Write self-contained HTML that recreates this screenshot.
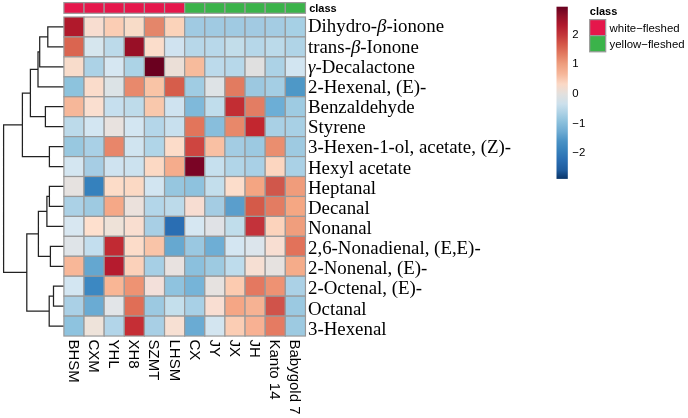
<!DOCTYPE html>
<html><head><meta charset="utf-8"><style>
html,body{margin:0;padding:0;background:#fff;}
body{width:688px;height:418px;overflow:hidden;}
svg{display:block;filter:blur(0.3px);}
text{font-family:"Liberation Sans",sans-serif;}
.rl{font-family:"Liberation Serif",serif;font-size:18.85px;fill:#000;}
.cl{font-size:15.0px;fill:#000;}
.lg{font-size:11.4px;fill:#000;}
.b{font-size:11px;}
.b{font-weight:bold;}
</style></head><body>
<svg width="688" height="418" viewBox="0 0 688 418">
<rect x="0" y="0" width="688" height="418" fill="#fff"/>
<path d="M63.9,26.97H47.8V46.91H63.9M47.8,36.94H39.7V66.85H63.9M39.7,51.89H38V86.79H63.9M63.9,106.73H45.4V126.67H63.9M38,69.34H30.4V116.7H45.4M63.9,146.61H49.4V166.55H63.9M30.4,93.02H22.4V156.58H49.4M63.9,186.49H49.4V206.43H63.9M49.4,196.46H46.9V226.37H63.9M63.9,246.31H50.4V266.25H63.9M46.9,211.42H38.4V256.28H50.4M63.9,286.19H53.5V306.13H63.9M53.5,296.16H49.2V326.07H63.9M38.4,233.85H26.8V311.12H49.2M22.4,124.8H3.6V272.48H26.8" fill="none" stroke="#222" stroke-width="1.25"/>
<rect x="63.9" y="2.6" width="20.13" height="10.7" fill="#E5174B" stroke="#999999" stroke-width="1.2"/>
<rect x="84.03" y="2.6" width="20.13" height="10.7" fill="#E5174B" stroke="#999999" stroke-width="1.2"/>
<rect x="104.16" y="2.6" width="20.13" height="10.7" fill="#E5174B" stroke="#999999" stroke-width="1.2"/>
<rect x="124.29" y="2.6" width="20.13" height="10.7" fill="#E5174B" stroke="#999999" stroke-width="1.2"/>
<rect x="144.42" y="2.6" width="20.13" height="10.7" fill="#E5174B" stroke="#999999" stroke-width="1.2"/>
<rect x="164.55" y="2.6" width="20.13" height="10.7" fill="#E5174B" stroke="#999999" stroke-width="1.2"/>
<rect x="184.68" y="2.6" width="20.13" height="10.7" fill="#3BB34A" stroke="#999999" stroke-width="1.2"/>
<rect x="204.81" y="2.6" width="20.13" height="10.7" fill="#3BB34A" stroke="#999999" stroke-width="1.2"/>
<rect x="224.94" y="2.6" width="20.13" height="10.7" fill="#3BB34A" stroke="#999999" stroke-width="1.2"/>
<rect x="245.07" y="2.6" width="20.13" height="10.7" fill="#3BB34A" stroke="#999999" stroke-width="1.2"/>
<rect x="265.2" y="2.6" width="20.13" height="10.7" fill="#3BB34A" stroke="#999999" stroke-width="1.2"/>
<rect x="285.33" y="2.6" width="20.13" height="10.7" fill="#3BB34A" stroke="#999999" stroke-width="1.2"/>
<rect x="63.9" y="17" width="20.13" height="19.94" fill="#B0192B" stroke="#999999" stroke-width="1.2"/>
<rect x="84.03" y="17" width="20.13" height="19.94" fill="#F8DDD0" stroke="#999999" stroke-width="1.2"/>
<rect x="104.16" y="17" width="20.13" height="19.94" fill="#FBCDB4" stroke="#999999" stroke-width="1.2"/>
<rect x="124.29" y="17" width="20.13" height="19.94" fill="#F8DCC8" stroke="#999999" stroke-width="1.2"/>
<rect x="144.42" y="17" width="20.13" height="19.94" fill="#E4866A" stroke="#999999" stroke-width="1.2"/>
<rect x="164.55" y="17" width="20.13" height="19.94" fill="#FBD3BA" stroke="#999999" stroke-width="1.2"/>
<rect x="184.68" y="17" width="20.13" height="19.94" fill="#A0CAE2" stroke="#999999" stroke-width="1.2"/>
<rect x="204.81" y="17" width="20.13" height="19.94" fill="#A0CAE2" stroke="#999999" stroke-width="1.2"/>
<rect x="224.94" y="17" width="20.13" height="19.94" fill="#A0CAE2" stroke="#999999" stroke-width="1.2"/>
<rect x="245.07" y="17" width="20.13" height="19.94" fill="#A2CAE2" stroke="#999999" stroke-width="1.2"/>
<rect x="265.2" y="17" width="20.13" height="19.94" fill="#A4CCE3" stroke="#999999" stroke-width="1.2"/>
<rect x="285.33" y="17" width="20.13" height="19.94" fill="#A6D0E5" stroke="#999999" stroke-width="1.2"/>
<rect x="63.9" y="36.94" width="20.13" height="19.94" fill="#DA6550" stroke="#999999" stroke-width="1.2"/>
<rect x="84.03" y="36.94" width="20.13" height="19.94" fill="#D6E6EE" stroke="#999999" stroke-width="1.2"/>
<rect x="104.16" y="36.94" width="20.13" height="19.94" fill="#BCDAEA" stroke="#999999" stroke-width="1.2"/>
<rect x="124.29" y="36.94" width="20.13" height="19.94" fill="#980F26" stroke="#999999" stroke-width="1.2"/>
<rect x="144.42" y="36.94" width="20.13" height="19.94" fill="#FBDDCB" stroke="#999999" stroke-width="1.2"/>
<rect x="164.55" y="36.94" width="20.13" height="19.94" fill="#D0E3F0" stroke="#999999" stroke-width="1.2"/>
<rect x="184.68" y="36.94" width="20.13" height="19.94" fill="#B7D7E9" stroke="#999999" stroke-width="1.2"/>
<rect x="204.81" y="36.94" width="20.13" height="19.94" fill="#B8D8EA" stroke="#999999" stroke-width="1.2"/>
<rect x="224.94" y="36.94" width="20.13" height="19.94" fill="#C2DDEA" stroke="#999999" stroke-width="1.2"/>
<rect x="245.07" y="36.94" width="20.13" height="19.94" fill="#B6D7E9" stroke="#999999" stroke-width="1.2"/>
<rect x="265.2" y="36.94" width="20.13" height="19.94" fill="#BBDAEA" stroke="#999999" stroke-width="1.2"/>
<rect x="285.33" y="36.94" width="20.13" height="19.94" fill="#B0D4E7" stroke="#999999" stroke-width="1.2"/>
<rect x="63.9" y="56.88" width="20.13" height="19.94" fill="#F8DCCB" stroke="#999999" stroke-width="1.2"/>
<rect x="84.03" y="56.88" width="20.13" height="19.94" fill="#ACD2E6" stroke="#999999" stroke-width="1.2"/>
<rect x="104.16" y="56.88" width="20.13" height="19.94" fill="#D6E7F2" stroke="#999999" stroke-width="1.2"/>
<rect x="124.29" y="56.88" width="20.13" height="19.94" fill="#ACD3E6" stroke="#999999" stroke-width="1.2"/>
<rect x="144.42" y="56.88" width="20.13" height="19.94" fill="#6A001F" stroke="#999999" stroke-width="1.2"/>
<rect x="164.55" y="56.88" width="20.13" height="19.94" fill="#EBDFD7" stroke="#999999" stroke-width="1.2"/>
<rect x="184.68" y="56.88" width="20.13" height="19.94" fill="#F7BB9C" stroke="#999999" stroke-width="1.2"/>
<rect x="204.81" y="56.88" width="20.13" height="19.94" fill="#BCDAEB" stroke="#999999" stroke-width="1.2"/>
<rect x="224.94" y="56.88" width="20.13" height="19.94" fill="#B7D8EA" stroke="#999999" stroke-width="1.2"/>
<rect x="245.07" y="56.88" width="20.13" height="19.94" fill="#E0E0E0" stroke="#999999" stroke-width="1.2"/>
<rect x="265.2" y="56.88" width="20.13" height="19.94" fill="#ACD2E6" stroke="#999999" stroke-width="1.2"/>
<rect x="285.33" y="56.88" width="20.13" height="19.94" fill="#D2E5F1" stroke="#999999" stroke-width="1.2"/>
<rect x="63.9" y="76.82" width="20.13" height="19.94" fill="#8DC3DD" stroke="#999999" stroke-width="1.2"/>
<rect x="84.03" y="76.82" width="20.13" height="19.94" fill="#FADCCB" stroke="#999999" stroke-width="1.2"/>
<rect x="104.16" y="76.82" width="20.13" height="19.94" fill="#DCE3E6" stroke="#999999" stroke-width="1.2"/>
<rect x="124.29" y="76.82" width="20.13" height="19.94" fill="#E8896C" stroke="#999999" stroke-width="1.2"/>
<rect x="144.42" y="76.82" width="20.13" height="19.94" fill="#F9C4A6" stroke="#999999" stroke-width="1.2"/>
<rect x="164.55" y="76.82" width="20.13" height="19.94" fill="#D65D4B" stroke="#999999" stroke-width="1.2"/>
<rect x="184.68" y="76.82" width="20.13" height="19.94" fill="#A0CCE3" stroke="#999999" stroke-width="1.2"/>
<rect x="204.81" y="76.82" width="20.13" height="19.94" fill="#DEE3E6" stroke="#999999" stroke-width="1.2"/>
<rect x="224.94" y="76.82" width="20.13" height="19.94" fill="#E27B60" stroke="#999999" stroke-width="1.2"/>
<rect x="245.07" y="76.82" width="20.13" height="19.94" fill="#9CC8E0" stroke="#999999" stroke-width="1.2"/>
<rect x="265.2" y="76.82" width="20.13" height="19.94" fill="#A4CEE4" stroke="#999999" stroke-width="1.2"/>
<rect x="285.33" y="76.82" width="20.13" height="19.94" fill="#4E98C7" stroke="#999999" stroke-width="1.2"/>
<rect x="63.9" y="96.76" width="20.13" height="19.94" fill="#F6B799" stroke="#999999" stroke-width="1.2"/>
<rect x="84.03" y="96.76" width="20.13" height="19.94" fill="#FADFD0" stroke="#999999" stroke-width="1.2"/>
<rect x="104.16" y="96.76" width="20.13" height="19.94" fill="#C6DFEE" stroke="#999999" stroke-width="1.2"/>
<rect x="124.29" y="96.76" width="20.13" height="19.94" fill="#BEDBEA" stroke="#999999" stroke-width="1.2"/>
<rect x="144.42" y="96.76" width="20.13" height="19.94" fill="#F9C8AC" stroke="#999999" stroke-width="1.2"/>
<rect x="164.55" y="96.76" width="20.13" height="19.94" fill="#CFE3F0" stroke="#999999" stroke-width="1.2"/>
<rect x="184.68" y="96.76" width="20.13" height="19.94" fill="#7FB9DA" stroke="#999999" stroke-width="1.2"/>
<rect x="204.81" y="96.76" width="20.13" height="19.94" fill="#C0DDEC" stroke="#999999" stroke-width="1.2"/>
<rect x="224.94" y="96.76" width="20.13" height="19.94" fill="#C22D33" stroke="#999999" stroke-width="1.2"/>
<rect x="245.07" y="96.76" width="20.13" height="19.94" fill="#E37D63" stroke="#999999" stroke-width="1.2"/>
<rect x="265.2" y="96.76" width="20.13" height="19.94" fill="#6CAED6" stroke="#999999" stroke-width="1.2"/>
<rect x="285.33" y="96.76" width="20.13" height="19.94" fill="#9ECBE2" stroke="#999999" stroke-width="1.2"/>
<rect x="63.9" y="116.7" width="20.13" height="19.94" fill="#BCDAEA" stroke="#999999" stroke-width="1.2"/>
<rect x="84.03" y="116.7" width="20.13" height="19.94" fill="#D3E6F2" stroke="#999999" stroke-width="1.2"/>
<rect x="104.16" y="116.7" width="20.13" height="19.94" fill="#E8E2DF" stroke="#999999" stroke-width="1.2"/>
<rect x="124.29" y="116.7" width="20.13" height="19.94" fill="#D3E6F2" stroke="#999999" stroke-width="1.2"/>
<rect x="144.42" y="116.7" width="20.13" height="19.94" fill="#B4D6E9" stroke="#999999" stroke-width="1.2"/>
<rect x="164.55" y="116.7" width="20.13" height="19.94" fill="#C8E0EE" stroke="#999999" stroke-width="1.2"/>
<rect x="184.68" y="116.7" width="20.13" height="19.94" fill="#E2755B" stroke="#999999" stroke-width="1.2"/>
<rect x="204.81" y="116.7" width="20.13" height="19.94" fill="#88BEDC" stroke="#999999" stroke-width="1.2"/>
<rect x="224.94" y="116.7" width="20.13" height="19.94" fill="#E8886A" stroke="#999999" stroke-width="1.2"/>
<rect x="245.07" y="116.7" width="20.13" height="19.94" fill="#C2262F" stroke="#999999" stroke-width="1.2"/>
<rect x="265.2" y="116.7" width="20.13" height="19.94" fill="#A9D0E5" stroke="#999999" stroke-width="1.2"/>
<rect x="285.33" y="116.7" width="20.13" height="19.94" fill="#A8D0E5" stroke="#999999" stroke-width="1.2"/>
<rect x="63.9" y="136.64" width="20.13" height="19.94" fill="#98C8E0" stroke="#999999" stroke-width="1.2"/>
<rect x="84.03" y="136.64" width="20.13" height="19.94" fill="#A9D0E6" stroke="#999999" stroke-width="1.2"/>
<rect x="104.16" y="136.64" width="20.13" height="19.94" fill="#E8866A" stroke="#999999" stroke-width="1.2"/>
<rect x="124.29" y="136.64" width="20.13" height="19.94" fill="#D0E4F0" stroke="#999999" stroke-width="1.2"/>
<rect x="144.42" y="136.64" width="20.13" height="19.94" fill="#B0D5E8" stroke="#999999" stroke-width="1.2"/>
<rect x="164.55" y="136.64" width="20.13" height="19.94" fill="#FCDCC9" stroke="#999999" stroke-width="1.2"/>
<rect x="184.68" y="136.64" width="20.13" height="19.94" fill="#CE4540" stroke="#999999" stroke-width="1.2"/>
<rect x="204.81" y="136.64" width="20.13" height="19.94" fill="#F9C0A3" stroke="#999999" stroke-width="1.2"/>
<rect x="224.94" y="136.64" width="20.13" height="19.94" fill="#A3CCE3" stroke="#999999" stroke-width="1.2"/>
<rect x="245.07" y="136.64" width="20.13" height="19.94" fill="#9CC9E1" stroke="#999999" stroke-width="1.2"/>
<rect x="265.2" y="136.64" width="20.13" height="19.94" fill="#EA8E6F" stroke="#999999" stroke-width="1.2"/>
<rect x="285.33" y="136.64" width="20.13" height="19.94" fill="#9ECAE1" stroke="#999999" stroke-width="1.2"/>
<rect x="63.9" y="156.58" width="20.13" height="19.94" fill="#D4E6F1" stroke="#999999" stroke-width="1.2"/>
<rect x="84.03" y="156.58" width="20.13" height="19.94" fill="#A6CDE4" stroke="#999999" stroke-width="1.2"/>
<rect x="104.16" y="156.58" width="20.13" height="19.94" fill="#CFE3F0" stroke="#999999" stroke-width="1.2"/>
<rect x="124.29" y="156.58" width="20.13" height="19.94" fill="#CCE2EF" stroke="#999999" stroke-width="1.2"/>
<rect x="144.42" y="156.58" width="20.13" height="19.94" fill="#FCD9C4" stroke="#999999" stroke-width="1.2"/>
<rect x="164.55" y="156.58" width="20.13" height="19.94" fill="#F5AC8C" stroke="#999999" stroke-width="1.2"/>
<rect x="184.68" y="156.58" width="20.13" height="19.94" fill="#7A0425" stroke="#999999" stroke-width="1.2"/>
<rect x="204.81" y="156.58" width="20.13" height="19.94" fill="#C6E0EE" stroke="#999999" stroke-width="1.2"/>
<rect x="224.94" y="156.58" width="20.13" height="19.94" fill="#B1D5E8" stroke="#999999" stroke-width="1.2"/>
<rect x="245.07" y="156.58" width="20.13" height="19.94" fill="#A9D0E6" stroke="#999999" stroke-width="1.2"/>
<rect x="265.2" y="156.58" width="20.13" height="19.94" fill="#FCD6C0" stroke="#999999" stroke-width="1.2"/>
<rect x="285.33" y="156.58" width="20.13" height="19.94" fill="#AAD1E6" stroke="#999999" stroke-width="1.2"/>
<rect x="63.9" y="176.52" width="20.13" height="19.94" fill="#E6E2E0" stroke="#999999" stroke-width="1.2"/>
<rect x="84.03" y="176.52" width="20.13" height="19.94" fill="#3581BD" stroke="#999999" stroke-width="1.2"/>
<rect x="104.16" y="176.52" width="20.13" height="19.94" fill="#FCDCC8" stroke="#999999" stroke-width="1.2"/>
<rect x="124.29" y="176.52" width="20.13" height="19.94" fill="#FBD9C4" stroke="#999999" stroke-width="1.2"/>
<rect x="144.42" y="176.52" width="20.13" height="19.94" fill="#D2E5F1" stroke="#999999" stroke-width="1.2"/>
<rect x="164.55" y="176.52" width="20.13" height="19.94" fill="#96C6DF" stroke="#999999" stroke-width="1.2"/>
<rect x="184.68" y="176.52" width="20.13" height="19.94" fill="#8EC2DE" stroke="#999999" stroke-width="1.2"/>
<rect x="204.81" y="176.52" width="20.13" height="19.94" fill="#C3DEEC" stroke="#999999" stroke-width="1.2"/>
<rect x="224.94" y="176.52" width="20.13" height="19.94" fill="#FCDDCB" stroke="#999999" stroke-width="1.2"/>
<rect x="245.07" y="176.52" width="20.13" height="19.94" fill="#F4A582" stroke="#999999" stroke-width="1.2"/>
<rect x="265.2" y="176.52" width="20.13" height="19.94" fill="#D0574B" stroke="#999999" stroke-width="1.2"/>
<rect x="285.33" y="176.52" width="20.13" height="19.94" fill="#F09C7B" stroke="#999999" stroke-width="1.2"/>
<rect x="63.9" y="196.46" width="20.13" height="19.94" fill="#ABD1E6" stroke="#999999" stroke-width="1.2"/>
<rect x="84.03" y="196.46" width="20.13" height="19.94" fill="#9ECAE1" stroke="#999999" stroke-width="1.2"/>
<rect x="104.16" y="196.46" width="20.13" height="19.94" fill="#F5A887" stroke="#999999" stroke-width="1.2"/>
<rect x="124.29" y="196.46" width="20.13" height="19.94" fill="#EBE1DC" stroke="#999999" stroke-width="1.2"/>
<rect x="144.42" y="196.46" width="20.13" height="19.94" fill="#B3D6E9" stroke="#999999" stroke-width="1.2"/>
<rect x="164.55" y="196.46" width="20.13" height="19.94" fill="#BCDAEA" stroke="#999999" stroke-width="1.2"/>
<rect x="184.68" y="196.46" width="20.13" height="19.94" fill="#F7DDD2" stroke="#999999" stroke-width="1.2"/>
<rect x="204.81" y="196.46" width="20.13" height="19.94" fill="#A4CCE3" stroke="#999999" stroke-width="1.2"/>
<rect x="224.94" y="196.46" width="20.13" height="19.94" fill="#5A9ECC" stroke="#999999" stroke-width="1.2"/>
<rect x="245.07" y="196.46" width="20.13" height="19.94" fill="#D45A49" stroke="#999999" stroke-width="1.2"/>
<rect x="265.2" y="196.46" width="20.13" height="19.94" fill="#E37C62" stroke="#999999" stroke-width="1.2"/>
<rect x="285.33" y="196.46" width="20.13" height="19.94" fill="#F5A783" stroke="#999999" stroke-width="1.2"/>
<rect x="63.9" y="216.4" width="20.13" height="19.94" fill="#D8E7F1" stroke="#999999" stroke-width="1.2"/>
<rect x="84.03" y="216.4" width="20.13" height="19.94" fill="#FEE0CE" stroke="#999999" stroke-width="1.2"/>
<rect x="104.16" y="216.4" width="20.13" height="19.94" fill="#EEE2D8" stroke="#999999" stroke-width="1.2"/>
<rect x="124.29" y="216.4" width="20.13" height="19.94" fill="#F9DED0" stroke="#999999" stroke-width="1.2"/>
<rect x="144.42" y="216.4" width="20.13" height="19.94" fill="#A8CFE5" stroke="#999999" stroke-width="1.2"/>
<rect x="164.55" y="216.4" width="20.13" height="19.94" fill="#2A6EB3" stroke="#999999" stroke-width="1.2"/>
<rect x="184.68" y="216.4" width="20.13" height="19.94" fill="#D6E7F2" stroke="#999999" stroke-width="1.2"/>
<rect x="204.81" y="216.4" width="20.13" height="19.94" fill="#E0E2E6" stroke="#999999" stroke-width="1.2"/>
<rect x="224.94" y="216.4" width="20.13" height="19.94" fill="#C0DDEB" stroke="#999999" stroke-width="1.2"/>
<rect x="245.07" y="216.4" width="20.13" height="19.94" fill="#C3323A" stroke="#999999" stroke-width="1.2"/>
<rect x="265.2" y="216.4" width="20.13" height="19.94" fill="#FCD3BC" stroke="#999999" stroke-width="1.2"/>
<rect x="285.33" y="216.4" width="20.13" height="19.94" fill="#F09E7D" stroke="#999999" stroke-width="1.2"/>
<rect x="63.9" y="236.34" width="20.13" height="19.94" fill="#DFE4E8" stroke="#999999" stroke-width="1.2"/>
<rect x="84.03" y="236.34" width="20.13" height="19.94" fill="#C3DEEE" stroke="#999999" stroke-width="1.2"/>
<rect x="104.16" y="236.34" width="20.13" height="19.94" fill="#C12A33" stroke="#999999" stroke-width="1.2"/>
<rect x="124.29" y="236.34" width="20.13" height="19.94" fill="#FCDCC9" stroke="#999999" stroke-width="1.2"/>
<rect x="144.42" y="236.34" width="20.13" height="19.94" fill="#F9C4A8" stroke="#999999" stroke-width="1.2"/>
<rect x="164.55" y="236.34" width="20.13" height="19.94" fill="#66A8D0" stroke="#999999" stroke-width="1.2"/>
<rect x="184.68" y="236.34" width="20.13" height="19.94" fill="#9AC8E1" stroke="#999999" stroke-width="1.2"/>
<rect x="204.81" y="236.34" width="20.13" height="19.94" fill="#6EAED5" stroke="#999999" stroke-width="1.2"/>
<rect x="224.94" y="236.34" width="20.13" height="19.94" fill="#D4E6F2" stroke="#999999" stroke-width="1.2"/>
<rect x="245.07" y="236.34" width="20.13" height="19.94" fill="#DCE5EC" stroke="#999999" stroke-width="1.2"/>
<rect x="265.2" y="236.34" width="20.13" height="19.94" fill="#F8DED2" stroke="#999999" stroke-width="1.2"/>
<rect x="285.33" y="236.34" width="20.13" height="19.94" fill="#E2725A" stroke="#999999" stroke-width="1.2"/>
<rect x="63.9" y="256.28" width="20.13" height="19.94" fill="#F8B798" stroke="#999999" stroke-width="1.2"/>
<rect x="84.03" y="256.28" width="20.13" height="19.94" fill="#64A7D0" stroke="#999999" stroke-width="1.2"/>
<rect x="104.16" y="256.28" width="20.13" height="19.94" fill="#B51B2E" stroke="#999999" stroke-width="1.2"/>
<rect x="124.29" y="256.28" width="20.13" height="19.94" fill="#FBD1BA" stroke="#999999" stroke-width="1.2"/>
<rect x="144.42" y="256.28" width="20.13" height="19.94" fill="#A6CFE5" stroke="#999999" stroke-width="1.2"/>
<rect x="164.55" y="256.28" width="20.13" height="19.94" fill="#E8E2E0" stroke="#999999" stroke-width="1.2"/>
<rect x="184.68" y="256.28" width="20.13" height="19.94" fill="#8BC0DD" stroke="#999999" stroke-width="1.2"/>
<rect x="204.81" y="256.28" width="20.13" height="19.94" fill="#9DCAE1" stroke="#999999" stroke-width="1.2"/>
<rect x="224.94" y="256.28" width="20.13" height="19.94" fill="#BEDCEC" stroke="#999999" stroke-width="1.2"/>
<rect x="245.07" y="256.28" width="20.13" height="19.94" fill="#F6DFD3" stroke="#999999" stroke-width="1.2"/>
<rect x="265.2" y="256.28" width="20.13" height="19.94" fill="#E6E2E0" stroke="#999999" stroke-width="1.2"/>
<rect x="285.33" y="256.28" width="20.13" height="19.94" fill="#F5AC8A" stroke="#999999" stroke-width="1.2"/>
<rect x="63.9" y="276.22" width="20.13" height="19.94" fill="#D3E6F2" stroke="#999999" stroke-width="1.2"/>
<rect x="84.03" y="276.22" width="20.13" height="19.94" fill="#3C88C2" stroke="#999999" stroke-width="1.2"/>
<rect x="104.16" y="276.22" width="20.13" height="19.94" fill="#F9B695" stroke="#999999" stroke-width="1.2"/>
<rect x="124.29" y="276.22" width="20.13" height="19.94" fill="#EE9373" stroke="#999999" stroke-width="1.2"/>
<rect x="144.42" y="276.22" width="20.13" height="19.94" fill="#F3E0DA" stroke="#999999" stroke-width="1.2"/>
<rect x="164.55" y="276.22" width="20.13" height="19.94" fill="#8FC3DF" stroke="#999999" stroke-width="1.2"/>
<rect x="184.68" y="276.22" width="20.13" height="19.94" fill="#76B4D8" stroke="#999999" stroke-width="1.2"/>
<rect x="204.81" y="276.22" width="20.13" height="19.94" fill="#E6E2E0" stroke="#999999" stroke-width="1.2"/>
<rect x="224.94" y="276.22" width="20.13" height="19.94" fill="#FCCBB0" stroke="#999999" stroke-width="1.2"/>
<rect x="245.07" y="276.22" width="20.13" height="19.94" fill="#E47860" stroke="#999999" stroke-width="1.2"/>
<rect x="265.2" y="276.22" width="20.13" height="19.94" fill="#EE9273" stroke="#999999" stroke-width="1.2"/>
<rect x="285.33" y="276.22" width="20.13" height="19.94" fill="#ABD1E6" stroke="#999999" stroke-width="1.2"/>
<rect x="63.9" y="296.16" width="20.13" height="19.94" fill="#AAD0E6" stroke="#999999" stroke-width="1.2"/>
<rect x="84.03" y="296.16" width="20.13" height="19.94" fill="#6AABD3" stroke="#999999" stroke-width="1.2"/>
<rect x="104.16" y="296.16" width="20.13" height="19.94" fill="#E2E5E8" stroke="#999999" stroke-width="1.2"/>
<rect x="124.29" y="296.16" width="20.13" height="19.94" fill="#E06E56" stroke="#999999" stroke-width="1.2"/>
<rect x="144.42" y="296.16" width="20.13" height="19.94" fill="#9CC9E1" stroke="#999999" stroke-width="1.2"/>
<rect x="164.55" y="296.16" width="20.13" height="19.94" fill="#C4DFEC" stroke="#999999" stroke-width="1.2"/>
<rect x="184.68" y="296.16" width="20.13" height="19.94" fill="#A8D0E6" stroke="#999999" stroke-width="1.2"/>
<rect x="204.81" y="296.16" width="20.13" height="19.94" fill="#F9DED2" stroke="#999999" stroke-width="1.2"/>
<rect x="224.94" y="296.16" width="20.13" height="19.94" fill="#F5A685" stroke="#999999" stroke-width="1.2"/>
<rect x="245.07" y="296.16" width="20.13" height="19.94" fill="#F6B293" stroke="#999999" stroke-width="1.2"/>
<rect x="265.2" y="296.16" width="20.13" height="19.94" fill="#D0534A" stroke="#999999" stroke-width="1.2"/>
<rect x="285.33" y="296.16" width="20.13" height="19.94" fill="#9BC9E1" stroke="#999999" stroke-width="1.2"/>
<rect x="63.9" y="316.1" width="20.13" height="19.94" fill="#8EC3DF" stroke="#999999" stroke-width="1.2"/>
<rect x="84.03" y="316.1" width="20.13" height="19.94" fill="#EEE3DA" stroke="#999999" stroke-width="1.2"/>
<rect x="104.16" y="316.1" width="20.13" height="19.94" fill="#B2D5E9" stroke="#999999" stroke-width="1.2"/>
<rect x="124.29" y="316.1" width="20.13" height="19.94" fill="#C52E35" stroke="#999999" stroke-width="1.2"/>
<rect x="144.42" y="316.1" width="20.13" height="19.94" fill="#A8CFE5" stroke="#999999" stroke-width="1.2"/>
<rect x="164.55" y="316.1" width="20.13" height="19.94" fill="#F7E0D3" stroke="#999999" stroke-width="1.2"/>
<rect x="184.68" y="316.1" width="20.13" height="19.94" fill="#6AABD3" stroke="#999999" stroke-width="1.2"/>
<rect x="204.81" y="316.1" width="20.13" height="19.94" fill="#D3E5F0" stroke="#999999" stroke-width="1.2"/>
<rect x="224.94" y="316.1" width="20.13" height="19.94" fill="#FBCDB4" stroke="#999999" stroke-width="1.2"/>
<rect x="245.07" y="316.1" width="20.13" height="19.94" fill="#F8B193" stroke="#999999" stroke-width="1.2"/>
<rect x="265.2" y="316.1" width="20.13" height="19.94" fill="#E57B62" stroke="#999999" stroke-width="1.2"/>
<rect x="285.33" y="316.1" width="20.13" height="19.94" fill="#9DCAE1" stroke="#999999" stroke-width="1.2"/>
<text class="lg b" x="309.2" y="11.6">class</text>
<text class="rl" x="308.0" y="32.4">Dihydro-<tspan font-style="italic">β</tspan>-ionone</text>
<text class="rl" x="308.0" y="52.56">trans-<tspan font-style="italic">β</tspan>-Ionone</text>
<text class="rl" x="308.0" y="72.72"><tspan font-style="italic">γ</tspan>-Decalactone</text>
<text class="rl" x="308.0" y="92.88">2-Hexenal, (E)-</text>
<text class="rl" x="308.0" y="113.04">Benzaldehyde</text>
<text class="rl" x="308.0" y="133.2">Styrene</text>
<text class="rl" x="308.0" y="153.36">3-Hexen-1-ol, acetate, (Z)-</text>
<text class="rl" x="308.0" y="173.52">Hexyl acetate</text>
<text class="rl" x="308.0" y="193.68">Heptanal</text>
<text class="rl" x="308.0" y="213.84">Decanal</text>
<text class="rl" x="308.0" y="234">Nonanal</text>
<text class="rl" x="308.0" y="254.16">2,6-Nonadienal, (E,E)-</text>
<text class="rl" x="308.0" y="274.32">2-Nonenal, (E)-</text>
<text class="rl" x="308.0" y="294.48">2-Octenal, (E)-</text>
<text class="rl" x="308.0" y="314.64">Octanal</text>
<text class="rl" x="308.0" y="334.8">3-Hexenal</text>
<text class="cl" x="68.87" y="339.5" transform="rotate(90 68.87 339.5)">BHSM</text>
<text class="cl" x="89" y="339.5" transform="rotate(90 89 339.5)">CXM</text>
<text class="cl" x="109.12" y="339.5" transform="rotate(90 109.12 339.5)">YHL</text>
<text class="cl" x="129.25" y="339.5" transform="rotate(90 129.25 339.5)">XH8</text>
<text class="cl" x="149.38" y="339.5" transform="rotate(90 149.38 339.5)">SZMT</text>
<text class="cl" x="169.51" y="339.5" transform="rotate(90 169.51 339.5)">LHSM</text>
<text class="cl" x="189.65" y="339.5" transform="rotate(90 189.65 339.5)">CX</text>
<text class="cl" x="209.78" y="339.5" transform="rotate(90 209.78 339.5)">JY</text>
<text class="cl" x="229.91" y="339.5" transform="rotate(90 229.91 339.5)">JX</text>
<text class="cl" x="250.03" y="339.5" transform="rotate(90 250.03 339.5)">JH</text>
<text class="cl" x="270.16" y="339.5" transform="rotate(90 270.16 339.5)">Kanto 14</text>
<text class="cl" x="290.29" y="339.5" transform="rotate(90 290.29 339.5)">Babygold 7</text>
<defs><linearGradient id="g" x1="0" y1="0" x2="0" y2="1"><stop offset="0.0000" stop-color="#67001F"/><stop offset="0.0540" stop-color="#901028"/><stop offset="0.1063" stop-color="#B0192D"/><stop offset="0.1643" stop-color="#C3363A"/><stop offset="0.2166" stop-color="#D45648"/><stop offset="0.2747" stop-color="#E27A60"/><stop offset="0.3328" stop-color="#EE9E7E"/><stop offset="0.3908" stop-color="#F6B79A"/><stop offset="0.4489" stop-color="#FBD8C5"/><stop offset="0.5070" stop-color="#E2E0DE"/><stop offset="0.5650" stop-color="#CCE0EC"/><stop offset="0.6173" stop-color="#ACD1E5"/><stop offset="0.6696" stop-color="#8BC0DC"/><stop offset="0.7276" stop-color="#6CAAD2"/><stop offset="0.7799" stop-color="#4A92C5"/><stop offset="0.8380" stop-color="#3680BB"/><stop offset="0.8902" stop-color="#2A6EB2"/><stop offset="0.9483" stop-color="#1F5C9E"/><stop offset="1.0000" stop-color="#0A3568"/></linearGradient></defs>
<rect x="556.5" y="6.7" width="11.3" height="172.2" fill="url(#g)"/>
<text class="lg" x="572.3" y="37.8">2</text>
<text class="lg" x="572.3" y="67.45">1</text>
<text class="lg" x="572.3" y="97.1">0</text>
<text class="lg" x="572.3" y="126.75">−1</text>
<text class="lg" x="572.3" y="156.4">−2</text>
<text class="lg b" x="589.8" y="15.1">class</text>
<rect x="589.7" y="19.6" width="16" height="16" fill="#E5174B" stroke="#999999" stroke-width="1.2"/>
<rect x="589.7" y="35.6" width="16" height="16.2" fill="#3BB34A" stroke="#999999" stroke-width="1.2"/>
<text class="lg" x="609.6" y="31.6">white−fleshed</text>
<text class="lg" x="609.6" y="47.7">yellow−fleshed</text>
</svg>
</body></html>
